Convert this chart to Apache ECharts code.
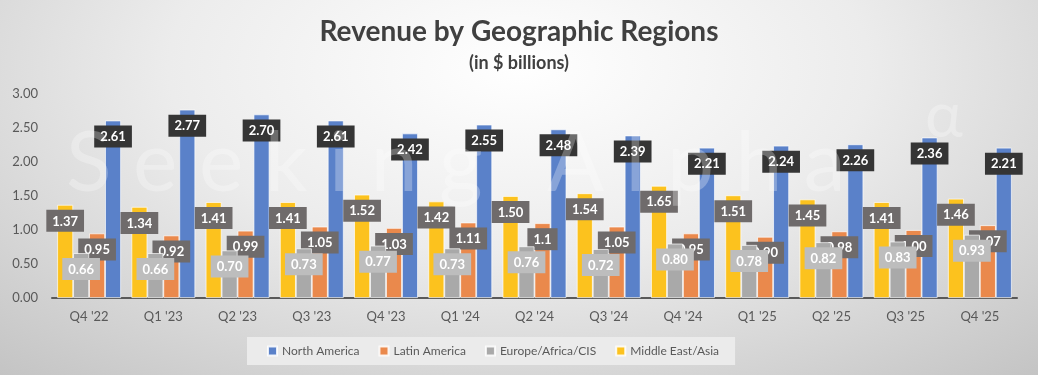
<!DOCTYPE html>
<html>
<head>
<meta charset="utf-8">
<script src="https://cdn.jsdelivr.net/npm/echarts@6/dist/echarts.min.js"></script>
<style>
  html, body { margin: 0; padding: 0; }
  #container {
    width: 1038px;
    height: 375px;
    background: radial-gradient(ellipse 75% 110% at 50% 18%, #ffffff 0%, #ececec 45%, #c4c4c4 100%);
  }
</style>
</head>
<body>
<div id="container"></div>
<script>
const quarters = ["Q4 '22", "Q1 '23", "Q2 '23", "Q3 '23", "Q4 '23", "Q1 '24", "Q2 '24",
  "Q3 '24", "Q4 '24", "Q1 '25", "Q2 '25", "Q3 '25", "Q4 '25"]

// values kept as the label text shown on the chart
const middleEastAsia = ['1.37', '1.34', '1.41', '1.41', '1.52', '1.42', '1.50', '1.54', '1.65', '1.51', '1.45', '1.41', '1.46']
const europeAfricaCis = ['0.66', '0.66', '0.70', '0.73', '0.77', '0.73', '0.76', '0.72', '0.80', '0.78', '0.82', '0.83', '0.93']
const latinAmerica = ['0.95', '0.92', '0.99', '1.05', '1.03', '1.11', '1.1', '1.05', '0.95', '0.90', '0.98', '1.00', '1.07']
const northAmerica = ['2.61', '2.77', '2.70', '2.61', '2.42', '2.55', '2.48', '2.39', '2.21', '2.24', '2.26', '2.36', '2.21']

const yTicks = [0, 0.5, 1, 1.5, 2, 2.5, 3]

const legendOrder = ['North America', 'Latin America', 'Europe/Africa/CIS', 'Middle East/Asia']

const font = 'Lato, "Open Sans", sans-serif'

const chart = echarts.init(document.getElementById('container'), null, { renderer: 'canvas' })

function makeSeries(name, data, color, labelBg, z) {
  return {
    name: name,
    type: 'bar',
    z: z,
    data: data,
    barGap: '0%',
    barCategoryGap: '14%',
    itemStyle: {
      color: color,
      borderColor: 'rgba(255,255,255,0.85)',
      borderWidth: 0.8
    },
    label: {
      show: true,
      position: 'insideTop',
      distance: 5,
      formatter: (p) => p.data,
      color: '#fff',
      fontFamily: font,
      fontWeight: 'bold',
      fontSize: 13,
      backgroundColor: labelBg,
      padding: [5, 6, 4, 6]
    }
  }
}

const option = {
  backgroundColor: 'transparent',
  title: {
    text: 'Revenue by Geographic Regions',
    subtext: '(in $ billions)',
    left: 'center',
    top: 13,
    itemGap: 8,
    textStyle: {
      color: '#404040',
      fontFamily: font,
      fontWeight: 'bold',
      fontSize: 28
    },
    subtextStyle: {
      color: '#404040',
      fontFamily: font,
      fontWeight: 'bold',
      fontSize: 18
    }
  },
  legend: {
    data: legendOrder,
    left: 247,
    top: 337,
    backgroundColor: '#ebebeb',
    padding: [8, 16, 8, 20],
    itemWidth: 9,
    itemHeight: 9,
    itemGap: 19,
    icon: 'rect',
    textStyle: {
      color: '#595959',
      fontFamily: font,
      fontSize: 12
    }
  },
  grid: {
    left: 52,
    right: 21,
    top: 94,
    bottom: 77,
    containLabel: false
  },
  xAxis: {
    type: 'category',
    data: quarters,
    axisLine: { lineStyle: { color: '#595959', width: 2 } },
    axisTick: { show: false },
    axisLabel: {
      color: '#595959',
      fontFamily: font,
      fontSize: 13,
      margin: 12
    }
  },
  yAxis: {
    type: 'value',
    min: yTicks[0],
    max: yTicks[yTicks.length - 1],
    interval: yTicks[1] - yTicks[0],
    splitLine: { show: false },
    axisLine: { show: false },
    axisTick: { show: false },
    axisLabel: {
      color: '#595959',
      fontFamily: font,
      fontSize: 13,
      margin: 14,
      formatter: (v) => v.toFixed(2)
    }
  },
  series: [
    makeSeries('Middle East/Asia', middleEastAsia, '#fcc21e', '#6f6b6b', 2),
    makeSeries('Europe/Africa/CIS', europeAfricaCis, '#a9a9a9', '#bdbdbd', 3),
    makeSeries('Latin America', latinAmerica, '#ea894c', '#6f6b6b', 2),
    makeSeries('North America', northAmerica, '#5a81c9', '#353535', 2)
  ],
  graphic: [
    {
      type: 'text',
      left: 66,
      top: 122,
      z: 100,
      silent: true,
      style: {
        text: 'S e e k i n g   A l p h a',
        fill: 'rgba(255,255,255,0.28)',
        font: '84px Lato, sans-serif'
      }
    },
    {
      type: 'text',
      left: 925,
      top: 84,
      z: 100,
      silent: true,
      style: {
        text: 'α',
        fill: 'rgba(255,255,255,0.28)',
        font: '64px Lato, sans-serif'
      }
    }
  ]
}

chart.setOption(option)
</script>
</body>
</html>
